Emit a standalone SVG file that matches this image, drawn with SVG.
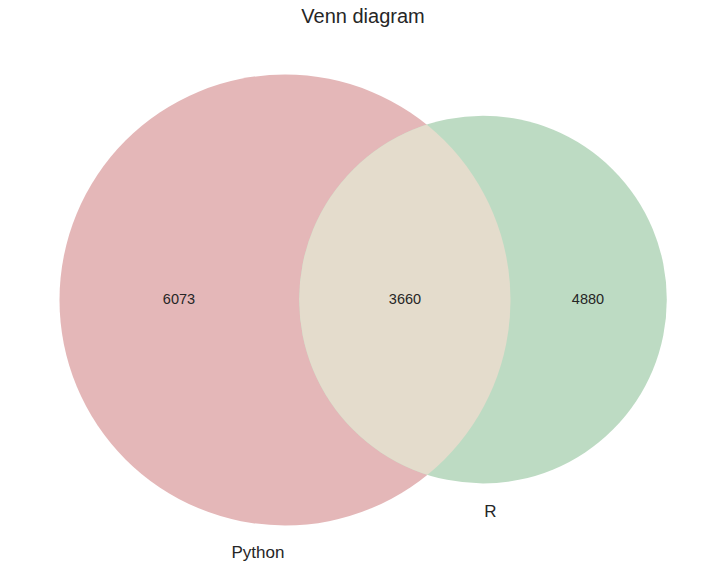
<svg xmlns="http://www.w3.org/2000/svg" width="726" height="585" viewBox="0 0 726 585">
<style>
text{font-family:"Liberation Sans",Arial,sans-serif;fill:#262626;text-anchor:middle}
.num{font-size:14.5px}
.lbl{font-size:17px}
.title{font-size:20px}
</style>
<defs>
<clipPath id="clipPy"><circle cx="285" cy="300" r="225.5"/></clipPath>
</defs>
<rect width="726" height="585" fill="#ffffff"/>
<g id="python"><circle cx="285" cy="300" r="225.5" fill="#e4b7b8"/></g>
<g id="r"><circle cx="483" cy="299.6" r="183.8" fill="#bddbc3"/></g>
<g id="intersection"><circle cx="483" cy="299.6" r="183.8" fill="#e4dccc" clip-path="url(#clipPy)"/></g>
<g id="labels">
<text class="num" x="179" y="304">6073</text>
<text class="num" x="405" y="304">3660</text>
<text class="num" x="588" y="304">4880</text>
<text class="lbl" x="258" y="558">Python</text>
<text class="lbl" x="490.5" y="517">R</text>
<text class="title" x="363" y="23">Venn diagram</text>
</g>
</svg>
